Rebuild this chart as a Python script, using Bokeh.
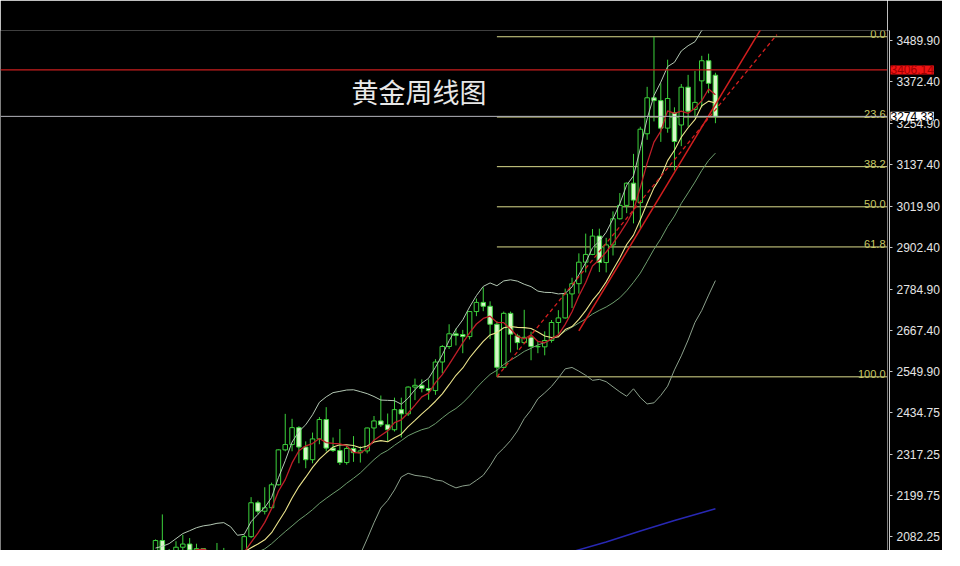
import numpy as np
from bokeh.plotting import figure
from bokeh.layouts import row
from bokeh.models import (ColumnDataSource, Range1d, LinearAxis, FixedTicker,
                          NumeralTickFormatter, Span, Label)
from bokeh.core.properties import value
from bokeh.embed import file_html
from bokeh.resources import INLINE

# ---------------- data (weekly XAUUSD) ----------------
opens = [2002, 2072, 2004, 2019, 2053, 2062, 2045, 2049, 2029, 2018,
         2039, 2024, 2013, 2035, 2083, 2179, 2155, 2165, 2230, 2329,
         2344, 2392, 2337, 2301, 2360, 2415, 2334, 2327, 2293, 2333,
         2321, 2326, 2391, 2411, 2400, 2386, 2443, 2431, 2507, 2512,
         2503, 2497, 2578, 2622, 2658, 2656, 2650, 2721, 2747, 2736,
         2685, 2563, 2716, 2652, 2633, 2648, 2622, 2621, 2639, 2690,
         2703, 2771, 2800, 2861, 2883, 2935, 2860, 2910, 2984, 3022,
         3085, 3030, 3225, 3327, 3319, 3241, 3285, 3250, 3357, 3294,
         3375, 3432, 3391]
highs = [2075, 2146, 2048, 2070, 2088, 2079, 2063, 2050, 2037, 2065,
         2051, 2032, 2041, 2088, 2195, 2185, 2223, 2236, 2330, 2431,
         2417, 2396, 2353, 2378, 2422, 2450, 2364, 2388, 2340, 2368,
         2339, 2392, 2425, 2483, 2432, 2477, 2477, 2509, 2531, 2529,
         2529, 2586, 2626, 2685, 2673, 2669, 2722, 2758, 2790, 2750,
         2694, 2721, 2721, 2658, 2726, 2664, 2638, 2665, 2697, 2725,
         2786, 2817, 2886, 2942, 2955, 2956, 2930, 3005, 3057, 3087,
         3168, 3245, 3358, 3500, 3368, 3435, 3300, 3366, 3392, 3403,
         3446, 3452, 3398]
lows = [2001, 1993, 1973, 2016, 2040, 2024, 2013, 2002, 2011, 2017,
        2015, 1984, 2012, 2024, 2079, 2146, 2146, 2163, 2228, 2325,
        2325, 2291, 2277, 2291, 2345, 2325, 2323, 2286, 2287, 2295,
        2293, 2319, 2352, 2394, 2353, 2381, 2364, 2425, 2470, 2492,
        2471, 2485, 2546, 2615, 2625, 2603, 2642, 2708, 2722, 2643,
        2536, 2560, 2605, 2613, 2631, 2583, 2603, 2597, 2633, 2657,
        2701, 2731, 2772, 2832, 2881, 2833, 2832, 2880, 2982, 3000,
        2971, 2957, 3208, 3260, 3202, 3228, 3121, 3190, 3245, 3271,
        3300, 3340, 3255]
closes = [2072, 2004, 2019, 2053, 2062, 2045, 2049, 2029, 2018, 2039,
          2024, 2013, 2035, 2083, 2179, 2155, 2165, 2230, 2329, 2344,
          2392, 2337, 2301, 2360, 2415, 2334, 2327, 2293, 2333, 2321,
          2326, 2391, 2411, 2400, 2386, 2443, 2431, 2507, 2512, 2503,
          2497, 2578, 2622, 2658, 2653, 2650, 2721, 2747, 2736, 2685,
          2563, 2716, 2657, 2633, 2648, 2622, 2621, 2639, 2690, 2703,
          2771, 2800, 2861, 2883, 2935, 2860, 2910, 2984, 3022, 3085,
          3037, 3238, 3327, 3319, 3241, 3325, 3203, 3357, 3289, 3314,
          3432, 3368, 3274.33]
# weekly closes before the first visible candle (needed for the averages)
prior_closes = [1955, 1962, 1959, 1942, 1914, 1889, 1915, 1940, 1919, 1924,
                1925, 1848, 1833, 1932, 1981, 2006, 1992, 1940, 1981, 2002]

price_ticks = [2082.25, 2199.75, 2317.25, 2434.75, 2549.90, 2667.40, 2784.90,
               2902.40, 3019.90, 3137.40, 3254.90, 3372.40, 3489.90]

fib_levels = [0.0, 23.6, 38.2, 50.0, 61.8, 100.0]
fib_labels = ["0.0", "23.6", "38.2", "50.0", "61.8", "100.0"]
fib_high = 3500.0
fib_low = 2536.0
fib_start_idx = 50

ref_price = 3406.14
last_price = 3274.33

# long moving average (blue), read at a few candles
blue_idx = [61, 66, 71, 76, 82]
blue_vals = [2040, 2068, 2099, 2129, 2162]

# hand-drawn trend lines
trend_solid_idx = [62, 91]
trend_solid_val = [2666, 3597]
trend_dash_idx = [50, 91]
trend_dash_val = [2536, 3506]

title_text = "黄金周线图"

# ---------------- derived series ----------------
n = len(closes)
idx = np.arange(n)
allc = np.array(prior_closes + closes, dtype=float)
n0 = len(prior_closes)


def sma(k):
    return np.array([allc[n0 + i - k + 1:n0 + i + 1].mean() for i in range(n)])


def sstd(k):
    return np.array([allc[n0 + i - k + 1:n0 + i + 1].std() for i in range(n)])


ma5 = sma(5)
ma10 = sma(10)
mid20 = sma(20)
sd20 = sstd(20)
up20 = mid20 + 2 * sd20
lo20 = mid20 - 2 * sd20

o = np.array(opens, float)
c = np.array(closes, float)
bull = c >= o
body_top = np.maximum(o, c)
body_bot = np.minimum(o, c)

# ---------------- geometry ----------------
H = 550
TOP = 30                      # top border shared by both plots (holds price boxes)
x_start, x_end = -22.7, 107.2
y_start, y_full_end = 2043.7, 3602.8
k = (y_full_end - y_start) / H
y_end = y_full_end - TOP * k  # keep the same price scale inside the shorter frame


def base_fig(**kw):
    f = figure(height=H, title=None, output_backend="svg", toolbar_location=None,
               x_axis_location=None, y_axis_location=None,
               background_fill_color="black", border_fill_color="black",
               outline_line_color=None, min_border_left=0, min_border_right=0,
               min_border_bottom=0, min_border_top=TOP, **kw)
    f.grid.visible = False
    return f


# ---------------- main chart ----------------
p = base_fig(width=887, x_range=Range1d(x_start, x_end),
             y_range=Range1d(y_start, y_end))

p.add_layout(Span(location=ref_price, dimension="width", line_color="#c81e1e",
                  line_width=1.3))
p.add_layout(Span(location=last_price, dimension="width", line_color="#b4b4bc",
                  line_width=1))

fib_prices = [fib_high - lv / 100.0 * (fib_high - fib_low) for lv in fib_levels]
p.ray(x=[fib_start_idx] * len(fib_prices), y=fib_prices, length=0, angle=0,
      line_color="#dcdc8c", line_width=1)
p.text(x=[x_end] * len(fib_prices), y=fib_prices, text=fib_labels,
       text_align="right", text_baseline="bottom", x_offset=-2, y_offset=1,
       text_color="#c8c864", text_font_size="11px",
       text_font=value("Liberation Sans"))

green = "#3cd23c"
p.segment(x0=idx, y0=highs, x1=idx, y1=lows, line_color=green, line_width=1)
bull_src = ColumnDataSource(dict(x=idx[bull], top=body_top[bull], bottom=body_bot[bull]))
bear_src = ColumnDataSource(dict(x=idx[~bull], top=body_top[~bull], bottom=body_bot[~bull]))
p.vbar(x="x", top="top", bottom="bottom", width=0.66, source=bull_src,
       fill_color="black", line_color=green, line_width=1)
p.vbar(x="x", top="top", bottom="bottom", width=0.66, source=bear_src,
       fill_color="#d6f7c8", line_color=green, line_width=1)

p.line(idx, up20, line_color="#b4c8b4", line_width=1)
p.line(idx, mid20, line_color="#6e9e6e", line_width=1)
p.line(idx, lo20, line_color="#8ca08c", line_width=1)
p.line(idx, ma10, line_color="#ece48c", line_width=1.1)
p.line(idx, ma5, line_color="#c01e28", line_width=1.3)
p.line(blue_idx, blue_vals, line_color="#2828b4", line_width=1.5)

p.line(trend_solid_idx, trend_solid_val, line_color="#d21e1e", line_width=1.5)
p.line(trend_dash_idx, trend_dash_val, line_color="#d21e1e", line_width=1.3,
       line_dash="4 3")

p.add_layout(Label(x=351, y=459, x_units="screen", y_units="screen",
                   text=title_text, text_baseline="middle",
                   text_font="Noto Sans CJK SC", text_font_size="27px",
                   text_color="#e8e8e8"))

# ---------------- price scale strip ----------------
ax_fig = base_fig(frame_width=2, x_range=Range1d(0, 1),
                  y_range=Range1d(y_start, y_end))

yaxis = LinearAxis(ticker=FixedTicker(ticks=price_ticks),
                   formatter=NumeralTickFormatter(format="0.00"),
                   axis_line_color="#c8c8c8", major_tick_line_color="#c8c8c8",
                   major_tick_out=3, major_tick_in=0, minor_tick_line_color=None,
                   major_label_text_color="#e6e6e6",
                   major_label_text_font_size="12px",
                   major_label_text_font="Liberation Sans",
                   major_label_standoff=4)
ax_fig.add_layout(yaxis, "right")

for price, fg, bg in [(ref_price, "#a00000", "#f01414"),
                      (last_price, "#000000", "#ffffff")]:
    ax_fig.add_layout(Label(x=1, y=price, x_offset=1, text=f"{price:.2f}",
                            text_baseline="middle", text_align="left",
                            text_font_size="12px", text_font="Liberation Sans",
                            text_color=fg, background_fill_color=bg), "above")

layout = row(p, ax_fig)
open("out.html", "w").write(file_html(layout, INLINE))
